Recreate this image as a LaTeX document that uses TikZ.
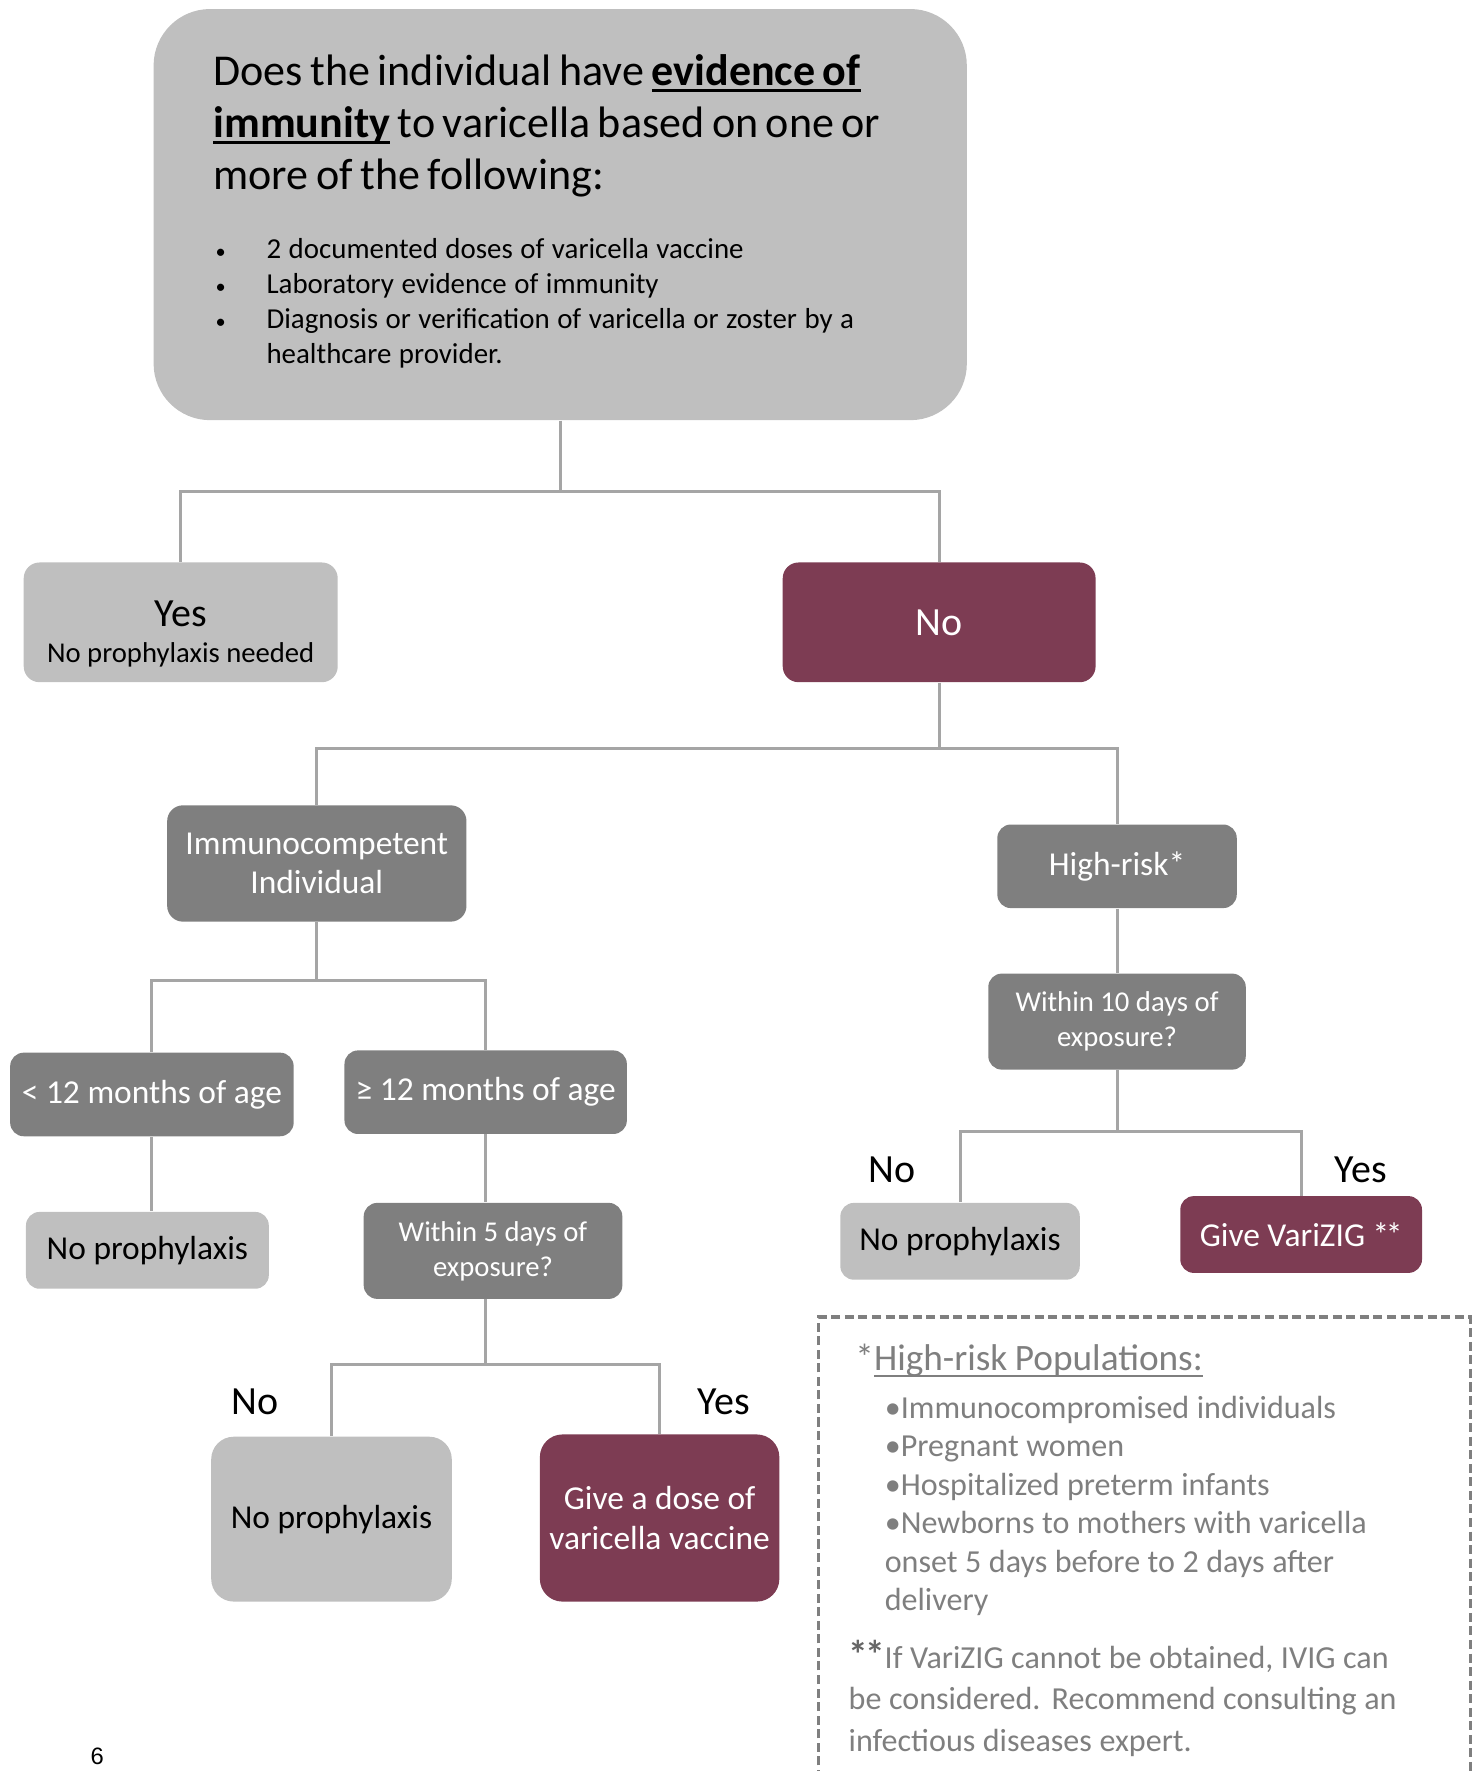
\documentclass[tikz,border=0pt]{standalone}
\usepackage{fontspec}
\setmainfont{Carlito}
\newfontfamily\seitenfont{Liberation Sans}
\setlength{\parindent}{0pt}
\definecolor{hellgrau}{RGB}{191,191,191}
\definecolor{dunkelgrau}{RGB}{127,127,127}
\definecolor{weinrot}{RGB}{125,60,83}
\definecolor{liniengrau}{RGB}{165,165,165}
\definecolor{textgrau}{RGB}{127,127,127}
\newcommand{\listpunkt}{\hangindent=23.5pt\hangafter=1\makebox[23.5pt][l]{\hspace{1pt}{\fontsize{9}{9}\selectfont•}}}
\newsavebox{\strichbox}
\newcommand{\unterstrich}[1]{\leavevmode\sbox{\strichbox}{#1}\rlap{\rule[-2.8pt]{\wd\strichbox}{1pt}}\usebox{\strichbox}}

\begin{document}
\begin{tikzpicture}[x=0.5pt,y=-0.5pt,
  kasten/.style={rectangle,rounded corners=6pt,inner sep=2pt,align=center},
  hell/.style={kasten,fill=hellgrau,text=black},
  dunkel/.style={kasten,fill=dunkelgrau,text=white},
  rot/.style={kasten,fill=weinrot,text=white},
  linie/.style={draw=liniengrau,line width=1.3pt},
  gross/.style={font=\fontsize{17.7}{21}\selectfont},
  mittel/.style={font=\fontsize{14.8}{17.5}\selectfont},
  klein/.style={font=\fontsize{12.7}{15.5}\selectfont}]
  \useasboundingbox (0,0) rectangle (1310,1568);

  % Ausgangsfrage
  \node[hell, rounded corners=25pt, minimum height=182pt, text width=307pt,
    inner xsep=26.5pt, align=left] (frage) at (496,190) {%
    {\fontsize{19.5}{23}\selectfont Does the individual have \unterstrich{\textbf{evidence of}}\break
    \unterstrich{\textbf{immunity}} to varicella based on one or\break
    more of the following:\par}
    \vspace{15pt}
    {\fontsize{12.8}{15.5}\selectfont
    \listpunkt 2 documented doses of varicella vaccine\par
    \listpunkt Laboratory evidence of immunity\par
    \listpunkt Diagnosis or verification of varicella or zoster by a\break
    healthcare provider.\par}
    \vspace{3pt}};

  % erste Ebene
  \node[hell, rounded corners=7pt, minimum width=139pt, minimum height=53pt] (ja) at (160,551)
    {{\fontsize{17.7}{18}\selectfont\rule{0pt}{22pt}Yes}\\[4pt]{\fontsize{12.7}{15}\selectfont No prophylaxis needed}};
  \node[rot, gross, rounded corners=7pt, minimum width=138.5pt, minimum height=53pt] (nein) at (831.5,551) {No};

  % zweite Ebene
  \node[dunkel, mittel, rounded corners=7pt, minimum width=132.5pt, minimum height=51.5pt] (immun) at (280.5,764.5)
    {Immunocompetent\\Individual};
  \node[dunkel, mittel, minimum width=106pt, minimum height=37pt] (hoch) at (989,767) {High-risk*};

  % Hochrisiko
  \node[dunkel, klein, minimum width=114pt, minimum height=42.5pt] (zehn) at (989,904.5)
    {Within 10 days of\\exposure?};
  \node[hell, mittel, minimum width=106pt, minimum height=34pt] (keine10) at (850,1099) {No prophylaxis};
  \node[rot, mittel, minimum width=107pt, minimum height=34pt] (varizig) at (1152,1093) {Give VariZIG *\kern-1.5pt*};
  \node[gross] (lneinzehn) at (790,1036) {No};
  \node[gross] (ljazehn) at (1205,1036) {Yes};

  % Alter
  \node[dunkel, mittel, minimum width=125.5pt, minimum height=37pt] (unter12) at (134.5,969) {< 12 months of age};
  \node[dunkel, mittel, minimum width=125pt, minimum height=37pt] (ab12) at (430,967) {≥ 12 months of age};
  \node[hell, mittel, minimum width=107.5pt, minimum height=34pt] (keine12) at (130.5,1107) {No prophylaxis};
  \node[dunkel, klein, minimum width=114.5pt, minimum height=42.5pt] (fuenf) at (436.5,1107.5)
    {Within 5 days of\\exposure?};

  % letzte Ebene
  \node[hell, mittel, rounded corners=10pt, minimum width=106.5pt, minimum height=73pt] (keine5) at (293.5,1345) {No prophylaxis};
  \node[rot, mittel, rounded corners=10pt, minimum width=106pt, minimum height=74pt] (impfung) at (584,1344)
    {Give a dose of\\varicella vaccine};
  \node[gross] (lneinfuenf) at (226,1241) {No};
  \node[gross] (ljafuenf) at (641,1241) {Yes};

  % Verbindungen
  \coordinate (b1) at (0,435);
  \coordinate (b2) at (0,663);
  \coordinate (b3) at (0,868);
  \coordinate (b4) at (0,1002);
  \coordinate (b5) at (0,1208);
  \draw[linie] (frage.south) -- (frage.south |- b1) -| (ja.north);
  \draw[linie] (frage.south |- b1) -| (nein.north);
  \draw[linie] (nein.south) -- (nein.south |- b2) -| (immun.north);
  \draw[linie] (nein.south |- b2) -| (hoch.north);
  \draw[linie] (hoch.south) -- (zehn.north);
  \draw[linie] (zehn.south) -- (zehn.south |- b4) -| (keine10.north);
  \draw[linie] (zehn.south |- b4) -| (varizig.north);
  \draw[linie] (immun.south) -- (immun.south |- b3) -| (unter12.north);
  \draw[linie] (immun.south |- b3) -| (ab12.north);
  \draw[linie] (unter12.south) -- (unter12.south |- keine12.north);
  \draw[linie] (ab12.south) -- (ab12.south |- fuenf.north);
  \draw[linie] (ab12.south |- fuenf.south) -- (ab12.south |- b5) -| (keine5.north);
  \draw[linie] (ab12.south |- b5) -| (impfung.north);

  % Hinweise
  \draw[draw=dunkelgrau, line width=1.4pt, dash pattern=on 4pt off 2pt]
    (725,1575) -- (725,1166) -- (1302,1166) -- (1302,1575);
  \node[anchor=north west, text width=270pt, align=left, inner sep=0pt, text=textgrau] (hinweis) at (751,1190) {%
    {\fontsize{16.5}{20}\selectfont\hspace*{3pt}*\unterstrich{High-risk Populations:}\par}
    \vspace{4pt}
    {\fontsize{14.2}{17}\selectfont\leftskip=16pt
    •Immunocompromised individuals\break
    •Pregnant women\break
    •Hospitalized preterm infants\break
    •Newborns to mothers with varicella\break
    onset 5 days before to 2 days after\break
    delivery\par}
    \vspace{7pt}
    {\fontsize{14.2}{18.5}\selectfont{\fontsize{17.5}{18.5}\selectfont\bfseries\color{black!60}*\kern-1.5pt*}If VariZIG cannot be obtained, IVIG can\break
    be considered. Recommend consulting an\break
    infectious diseases expert.\par}};

  % Seitenzahl
  \node[font=\seitenfont\fontsize{10.5}{12}\selectfont] (seite) at (86,1555) {6};
\end{tikzpicture}
\end{document}
